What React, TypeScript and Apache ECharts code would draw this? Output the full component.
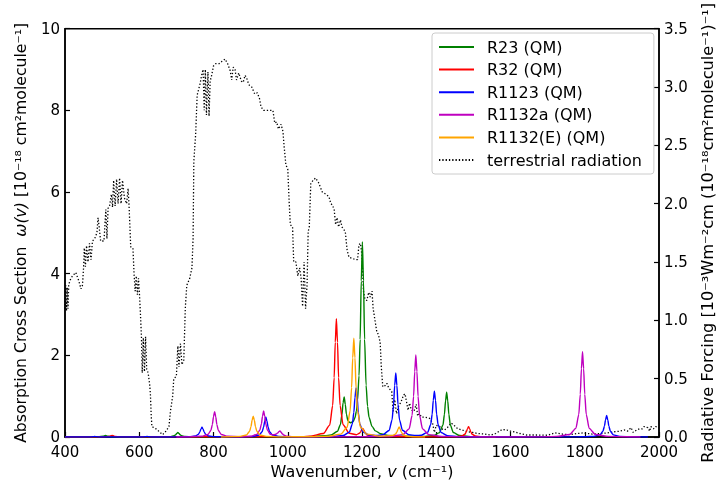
import React, { useEffect, useRef } from "react";
import * as echarts from "echarts";

// [wavenumber, absorption cross section (1e-18 cm^2/molecule)]
const r23: number[][] = [
  [400, 0], [490, 0.002], [503, 0.02], [509, 0.04], [515, 0.02], [530, 0.002],
  [680, 0.003], [694, 0.03], [698, 0.055], [701, 0.088], [704, 0.11], [707, 0.088], [710, 0.055], [714, 0.03], [722, 0.011], [745, 0.003],
  [1050, 0.01], [1100, 0.03], [1117, 0.05], [1134, 0.14], [1142, 0.31], [1146, 0.55], [1149, 0.84], [1152, 0.98], [1155, 0.8], [1158, 0.56], [1162, 0.4], [1166, 0.36], [1170, 0.35], [1176, 0.38], [1181, 0.47], [1185, 0.64], [1188, 0.9], [1192, 1.5], [1195, 2.39], [1198, 3.82], [1201, 4.78], [1204, 3.82], [1207, 2.39], [1211, 1.27], [1215, 0.75], [1219, 0.48], [1227, 0.26], [1236, 0.15], [1250, 0.08], [1270, 0.04], [1300, 0.02], [1370, 0.015],
  [1392, 0.035], [1408, 0.1], [1418, 0.29], [1422, 0.55], [1425, 0.88], [1428, 1.1], [1431, 0.88], [1434, 0.55], [1438, 0.29], [1446, 0.11], [1463, 0.035], [1500, 0.008], [1560, 0],
];

const r32: number[][] = [
  [400, 0], [505, 0.002], [520, 0.015], [524, 0.03], [527, 0.04], [530, 0.03], [534, 0.015], [550, 0.002],
  [1040, 0.01], [1060, 0.02], [1096, 0.084], [1113, 0.29], [1121, 0.77], [1125, 1.45], [1128, 2.32], [1131, 2.9], [1134, 2.32], [1137, 1.45], [1141, 0.77], [1149, 0.3], [1166, 0.09], [1185, 0.056], [1193, 0.09], [1196, 0.12], [1199, 0.17], [1202, 0.21], [1205, 0.17], [1208, 0.11], [1214, 0.05], [1230, 0.025], [1260, 0.01], [1400, 0.004],
  [1452, 0.008], [1469, 0.025], [1477, 0.066], [1481, 0.125], [1484, 0.2], [1487, 0.25], [1490, 0.2], [1493, 0.125], [1497, 0.066], [1505, 0.025], [1522, 0.008], [1560, 0],
];

const r1123: number[][] = [
  [400, 0], [468, 0.001], [475, 0.006], [480, 0.015], [485, 0.006], [492, 0.001],
  [608, 0.001], [615, 0.006], [621, 0.015], [627, 0.006], [634, 0.001],
  [720, 0.002], [734, 0.007], [751, 0.024], [759, 0.064], [763, 0.12], [766, 0.19], [769, 0.24], [772, 0.19], [775, 0.12], [779, 0.064], [787, 0.024], [804, 0.007], [830, 0.004],
  [880, 0.006], [906, 0.014], [923, 0.049], [931, 0.13], [935, 0.245], [938, 0.39], [941, 0.49], [944, 0.39], [947, 0.245], [951, 0.13], [959, 0.049], [976, 0.014], [1010, 0.004],
  [1080, 0.005], [1114, 0.01], [1149, 0.035], [1166, 0.12], [1174, 0.32], [1178, 0.6], [1181, 0.96], [1184, 1.2], [1187, 0.96], [1190, 0.6], [1194, 0.32], [1202, 0.13], [1219, 0.046], [1240, 0.037], [1256, 0.055],
  [1273, 0.16], [1281, 0.42], [1285, 0.79], [1288, 1.26], [1291, 1.57], [1294, 1.26], [1297, 0.79], [1301, 0.42], [1309, 0.165], [1326, 0.055], [1345, 0.035], [1360, 0.044],
  [1377, 0.12], [1385, 0.3], [1389, 0.56], [1392, 0.9], [1395, 1.12], [1398, 0.9], [1401, 0.56], [1405, 0.3], [1413, 0.11], [1430, 0.033], [1465, 0.008], [1520, 0.002],
  [1780, 0.003], [1800, 0.006], [1824, 0.015], [1841, 0.053], [1849, 0.14], [1853, 0.265], [1856, 0.42], [1859, 0.53], [1862, 0.42], [1865, 0.265], [1869, 0.14], [1877, 0.053], [1894, 0.015], [1930, 0.004], [1970, 0],
];

const r1132a: number[][] = [
  [700, 0], [733, 0.004], [768, 0.018], [785, 0.062], [793, 0.16], [797, 0.31], [800, 0.5], [803, 0.62], [806, 0.5], [809, 0.31], [813, 0.16], [821, 0.062], [838, 0.018], [873, 0.006],
  [900, 0.019], [917, 0.064], [925, 0.17], [929, 0.32], [932, 0.51], [935, 0.64], [938, 0.51], [941, 0.32], [945, 0.17], [953, 0.066], [960, 0.05], [966, 0.06], [970, 0.08], [973, 0.1], [976, 0.13], [979, 0.15], [982, 0.12], [985, 0.08], [989, 0.05], [997, 0.02], [1014, 0.008], [1050, 0.003],
  [1200, 0.005], [1275, 0.014], [1310, 0.058], [1327, 0.2], [1335, 0.53], [1339, 1.0], [1342, 1.6], [1345, 2.01], [1348, 1.6], [1351, 1.0], [1355, 0.53], [1363, 0.2], [1380, 0.058], [1415, 0.014], [1460, 0.005], [1500, 0],
  [1680, 0.003], [1724, 0.015], [1759, 0.06], [1776, 0.21], [1784, 0.55], [1788, 1.05], [1791, 1.67], [1794, 2.09], [1797, 1.67], [1800, 1.05], [1804, 0.55], [1812, 0.21], [1829, 0.06], [1864, 0.015], [1910, 0.005], [1950, 0],
];

const r1132e: number[][] = [
  [820, 0], [872, 0.015], [889, 0.05], [897, 0.135], [901, 0.255], [904, 0.41], [907, 0.51], [910, 0.41], [913, 0.255], [917, 0.135], [925, 0.05], [942, 0.015], [980, 0.004],
  [1060, 0.006], [1108, 0.017], [1143, 0.07], [1160, 0.24], [1168, 0.64], [1172, 1.21], [1175, 1.94], [1178, 2.42], [1181, 1.94], [1184, 1.21], [1188, 0.64], [1196, 0.24], [1213, 0.07], [1248, 0.02],
  [1282, 0.035], [1290, 0.07], [1294, 0.12], [1297, 0.19], [1300, 0.245], [1303, 0.19], [1306, 0.12], [1310, 0.064], [1318, 0.025], [1335, 0.007], [1370, 0],
];

// [wavenumber, radiative forcing (right axis)]
const terrestrial: number[][] = [
  [400, 1.1], [402, 1.3], [404, 1.08], [406, 1.28], [408, 1.1], [410, 1.3], [413, 1.34], [420, 1.38], [429, 1.41], [437, 1.34], [443, 1.27], [447, 1.3],
  [450, 1.45], [452, 1.62], [455, 1.46], [458, 1.64], [462, 1.5], [466, 1.66], [470, 1.52], [474, 1.68], [480, 1.7], [486, 1.75], [489, 1.88], [492, 1.8], [496, 1.68], [505, 1.68],
  [510, 1.95], [513, 1.7], [516, 1.96], [520, 1.98], [525, 2.08], [528, 1.97], [531, 2.2], [535, 1.98], [539, 2.21], [543, 2.0], [547, 2.22], [551, 2.0], [555, 2.2], [560, 2.05], [566, 2.0], [570, 2.13], [573, 1.95],
  [577, 1.63], [583, 1.62], [586, 1.4], [589, 1.25], [592, 1.38], [595, 1.22], [598, 1.36], [601, 1.2], [604, 1.0], [606, 0.85], [608, 0.55], [611, 0.85], [614, 0.56], [617, 0.86], [620, 0.58], [624, 0.55],
  [628, 0.45], [630, 0.37], [632, 0.2], [634, 0.09], [645, 0.07], [656, 0.04], [663, 0.02], [672, 0.05], [680, 0.09], [684, 0.22], [690, 0.35], [693, 0.5], [700, 0.52],
  [704, 0.78], [707, 0.6], [711, 0.8], [715, 0.62], [720, 0.66], [724, 1.1], [728, 1.3], [736, 1.36], [742, 1.45], [745, 1.7], [747, 2.36], [752, 2.6], [756, 2.93], [764, 3.03],
  [768, 3.1], [772, 3.15], [775, 2.8], [778, 3.15], [781, 2.76], [785, 3.13], [788, 2.75], [791, 3.05], [795, 3.1], [800, 3.18], [806, 3.2], [815, 3.2], [823, 3.22], [831, 3.24],
  [838, 3.2], [845, 3.14], [849, 3.06], [853, 3.17], [858, 3.15], [862, 3.06], [868, 3.12], [875, 3.05], [880, 3.04], [885, 3.1], [889, 3.08], [895, 3.02], [903, 3.0], [911, 2.94],
  [918, 2.95], [924, 2.9], [928, 2.83], [935, 2.8], [950, 2.8], [960, 2.8], [965, 2.69], [970, 2.7], [975, 2.64], [982, 2.68], [987, 2.62], [990, 2.5], [995, 2.33], [1000, 2.3],
  [1004, 2.0], [1007, 1.82], [1013, 1.8], [1016, 1.5], [1022, 1.5], [1027, 1.38], [1032, 1.45], [1036, 1.36], [1040, 1.12], [1044, 1.5], [1048, 1.1], [1052, 1.3], [1055, 1.76], [1058, 1.8],
  [1062, 2.17], [1068, 2.2], [1075, 2.22], [1083, 2.18], [1093, 2.1], [1103, 2.08], [1111, 2.06], [1116, 2.0], [1120, 1.99], [1125, 1.95], [1129, 1.82], [1133, 1.88], [1137, 1.8], [1142, 1.86], [1146, 1.8],
  [1155, 1.76], [1160, 1.6], [1165, 1.54], [1175, 1.53], [1182, 1.52], [1188, 1.52], [1192, 1.65], [1196, 1.66], [1200, 1.55], [1204, 1.25], [1208, 1.18], [1213, 1.17], [1218, 1.24], [1222, 1.2], [1227, 1.25],
  [1230, 1.1], [1234, 1.02], [1240, 0.9], [1244, 0.88], [1249, 0.81], [1252, 0.6], [1256, 0.43], [1262, 0.44], [1267, 0.46], [1272, 0.42], [1280, 0.39], [1284, 0.22], [1288, 0.32], [1293, 0.2], [1298, 0.26],
  [1305, 0.3], [1312, 0.36], [1316, 0.37], [1320, 0.3], [1324, 0.23], [1328, 0.29], [1333, 0.23], [1340, 0.22], [1346, 0.28], [1350, 0.18], [1355, 0.2], [1360, 0.17], [1370, 0.17], [1382, 0.16],
  [1390, 0.12], [1395, 0.04], [1400, 0.1], [1409, 0.09], [1415, 0.07], [1422, 0.06], [1430, 0.08], [1440, 0.12], [1448, 0.1], [1458, 0.07], [1470, 0.06], [1484, 0.045], [1498, 0.04], [1511, 0.03],
  [1530, 0.025], [1547, 0.017], [1560, 0.03], [1570, 0.05], [1578, 0.065], [1590, 0.06], [1600, 0.05], [1609, 0.045], [1625, 0.03], [1644, 0.017], [1670, 0.017], [1700, 0.015], [1720, 0.035],
  [1740, 0.025], [1760, 0.02], [1780, 0.03], [1795, 0.035], [1820, 0.025], [1844, 0.03], [1860, 0.035], [1880, 0.045], [1895, 0.05], [1907, 0.06], [1915, 0.05], [1925, 0.08], [1930, 0.04],
  [1940, 0.06], [1947, 0.07], [1955, 0.07], [1960, 0.09], [1970, 0.08], [1975, 0.05], [1978, 0.09], [1985, 0.07], [1991, 0.09], [2000, 0.08],
];

const seriesNames = ["R23 (QM)", "R32 (QM)", "R1123 (QM)", "R1132a (QM)", "R1132(E) (QM)", "terrestrial radiation"];
const seriesColors = ["#008000", "#ff0000", "#0000ff", "#bf00bf", "#ffa500", "#000000"];
const xTicks = { min: 400, max: 2000, step: 200 };
const yLeftTicks = { min: 0, max: 10, step: 2 };
const yRightTicks = { min: 0, max: 3.5, step: 0.5 };

const FONT = "DejaVu Sans";

export default function App() {
  const ref = useRef<HTMLDivElement>(null);
  useEffect(() => {
    if (!ref.current) return;
    const chart = echarts.init(ref.current, undefined, { renderer: "svg" });
    const spectra = [r23, r32, r1123, r1132a, r1132e];
    const axisCommon = {
      axisLine: { show: true, lineStyle: { color: "#000", width: 1.5 } },
      axisTick: { show: true, inside: true, length: 5, lineStyle: { color: "#000", width: 1.2 } },
      splitLine: { show: false },
    };
    const option: any = {
      animation: false,
      textStyle: { fontFamily: FONT },
      grid: { left: 65, right: 59, top: 26, bottom: 49, show: true, borderColor: "#000", borderWidth: 1.5, backgroundColor: "transparent" },
      legend: {
        orient: "vertical",
        left: 432,
        top: 33,
        padding: [6, 12, 6, 6],
        itemGap: 6.6,
        itemWidth: 35,
        itemHeight: 16,
        backgroundColor: "rgba(255,255,255,0.8)",
        borderColor: "#cccccc",
        borderWidth: 1,
        borderRadius: 3,
        itemStyle: { opacity: 0 },
        textStyle: { fontFamily: FONT, fontSize: 16, color: "#000", padding: [0, 0, 0, 8] },
        data: seriesNames,
      },
      xAxis: {
        type: "value",
        min: xTicks.min,
        max: xTicks.max,
        interval: xTicks.step,
        ...axisCommon,
        axisLabel: { color: "#000", fontSize: 15, margin: 7, fontFamily: FONT, formatter: (v: number) => String(v) },
        name: "{n|Wavenumber, }{i|v}{n| (cm⁻¹)}",
        nameLocation: "middle",
        nameGap: 26,
        nameTextStyle: {
          rich: {
            n: { fontFamily: FONT, fontSize: 16, color: "#000" },
            i: { fontFamily: FONT, fontSize: 16, color: "#000", fontStyle: "italic" },
          },
        },
      },
      yAxis: [
        {
          type: "value",
          min: yLeftTicks.min,
          max: yLeftTicks.max,
          interval: yLeftTicks.step,
          position: "left",
          ...axisCommon,
          axisLabel: { color: "#000", fontSize: 15, margin: 5, fontFamily: FONT },
          name: "{n|Absorption Cross Section  }{i|ω(v)}{n| [10⁻¹⁸ cm²molecule⁻¹]}",
          nameLocation: "middle",
          nameRotate: 90,
          nameGap: 37,
          nameTextStyle: {
            rich: {
              n: { fontFamily: FONT, fontSize: 15.7, color: "#000" },
              i: { fontFamily: FONT, fontSize: 15.7, color: "#000", fontStyle: "italic" },
            },
          },
        },
        {
          type: "value",
          min: yRightTicks.min,
          max: yRightTicks.max,
          interval: yRightTicks.step,
          position: "right",
          ...axisCommon,
          axisLabel: { color: "#000", fontSize: 15, margin: 5, fontFamily: FONT, formatter: (v: number) => v.toFixed(1) },
          name: "Radiative Forcing [10⁻³Wm⁻²cm (10⁻¹⁸cm²molecule⁻¹)⁻¹]",
          nameLocation: "middle",
          nameRotate: 90,
          nameGap: 40,
          nameTextStyle: { fontFamily: FONT, fontSize: 16.2, color: "#000" },
        },
      ],
      series: [
        ...spectra.map((d, i) => ({
          name: seriesNames[i],
          type: "line",
          data: d,
          yAxisIndex: 0,
          symbol: "none",
          smooth: 0.25,
          smoothMonotone: "x",
          lineStyle: { color: seriesColors[i], width: 1.4 },
          itemStyle: { color: seriesColors[i] },
          z: 3,
        })),
        {
          name: seriesNames[5],
          type: "line",
          data: terrestrial,
          yAxisIndex: 1,
          symbol: "none",
          lineStyle: { color: "#000", width: 1.3, type: [1.3, 2] },
          itemStyle: { color: "#000" },
          z: 2,
        },
      ],
    };
    chart.setOption(option);
    return () => chart.dispose();
  }, []);
  return <div ref={ref} style={{ position: "fixed", left: 0, top: 0, width: 723, height: 486 }} />;
}
